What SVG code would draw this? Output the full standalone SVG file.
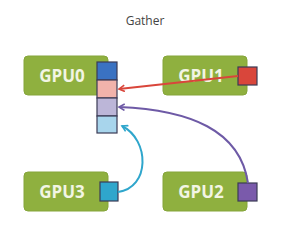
<svg xmlns="http://www.w3.org/2000/svg" width="281" height="228" viewBox="0 0 281 228">
<style>
.box{fill:#8fb03f;stroke:#85a53a;stroke-width:1}
.lbl{font-family:"Open Sans","DejaVu Sans",sans-serif;font-size:17px;font-weight:bold;fill:#f2f5e4;text-anchor:middle}
.sq{stroke:#3b3b55;stroke-width:1.2}
.title{font-family:"Open Sans","DejaVu Sans",sans-serif;font-size:12px;fill:#444;text-anchor:middle}
</style>
<defs>
<marker id="ar" viewBox="0 0 10 10" refX="8" refY="5" markerWidth="4" markerHeight="4" orient="auto"><path d="M1,1 L8,5 L1,9" fill="none" stroke="#d9463b" stroke-width="2"/></marker>
<marker id="ap" viewBox="0 0 10 10" refX="8" refY="5" markerWidth="4" markerHeight="4" orient="auto"><path d="M1,1 L8,5 L1,9" fill="none" stroke="#6e5aa6" stroke-width="2"/></marker>
<marker id="ac" viewBox="0 0 10 10" refX="8" refY="5" markerWidth="4" markerHeight="4" orient="auto"><path d="M1,1 L8,5 L1,9" fill="none" stroke="#2fa6cc" stroke-width="2"/></marker>
</defs>
<rect width="281" height="228" fill="#ffffff"/>
<text class="title" x="145" y="25">Gather</text>
<g id="gpu0">
<rect class="box" x="24" y="56" width="84" height="39" rx="4"/>
<text class="lbl" x="62" y="82">GPU0</text>
<rect class="sq" x="97" y="62" width="20" height="18" fill="#3a72c2"/>
<rect class="sq" x="97" y="80" width="20" height="18" fill="#f1b3ab"/>
<rect class="sq" x="97" y="98" width="20" height="18" fill="#bcb6d8"/>
<rect class="sq" x="97" y="116" width="20" height="17" fill="#a8d5ec"/>
</g>
<g id="gpu1">
<rect class="box" x="163" y="56" width="84" height="39" rx="4"/>
<text class="lbl" x="201" y="82">GPU1</text>
<rect class="sq" x="238" y="67" width="19" height="18" fill="#d9463b" stroke="#a8302a"/>
</g>
<g id="gpu3">
<rect class="box" x="24" y="172" width="84" height="39" rx="4"/>
<text class="lbl" x="62" y="198">GPU3</text>
<rect class="sq" x="100" y="182" width="18" height="19" fill="#2fa6cc" stroke="#1e6f8e"/>
</g>
<g id="gpu2">
<rect class="box" x="163" y="172" width="84" height="39" rx="4"/>
<text class="lbl" x="201" y="198">GPU2</text>
<rect class="sq" x="238" y="183" width="19" height="18" fill="#7a5aab" stroke="#4b3a78"/>
</g>
<g id="connectors" fill="none" stroke-width="2">
<path d="M238,76 L119,89" stroke="#d9463b" marker-end="url(#ar)"/>
<path d="M248,183 C240,130 190,110 119,107" stroke="#6e5aa6" marker-end="url(#ap)"/>
<path d="M118,192 C150,188 150,140 122,126" stroke="#2fa6cc" marker-end="url(#ac)"/>
</g>
</svg>
